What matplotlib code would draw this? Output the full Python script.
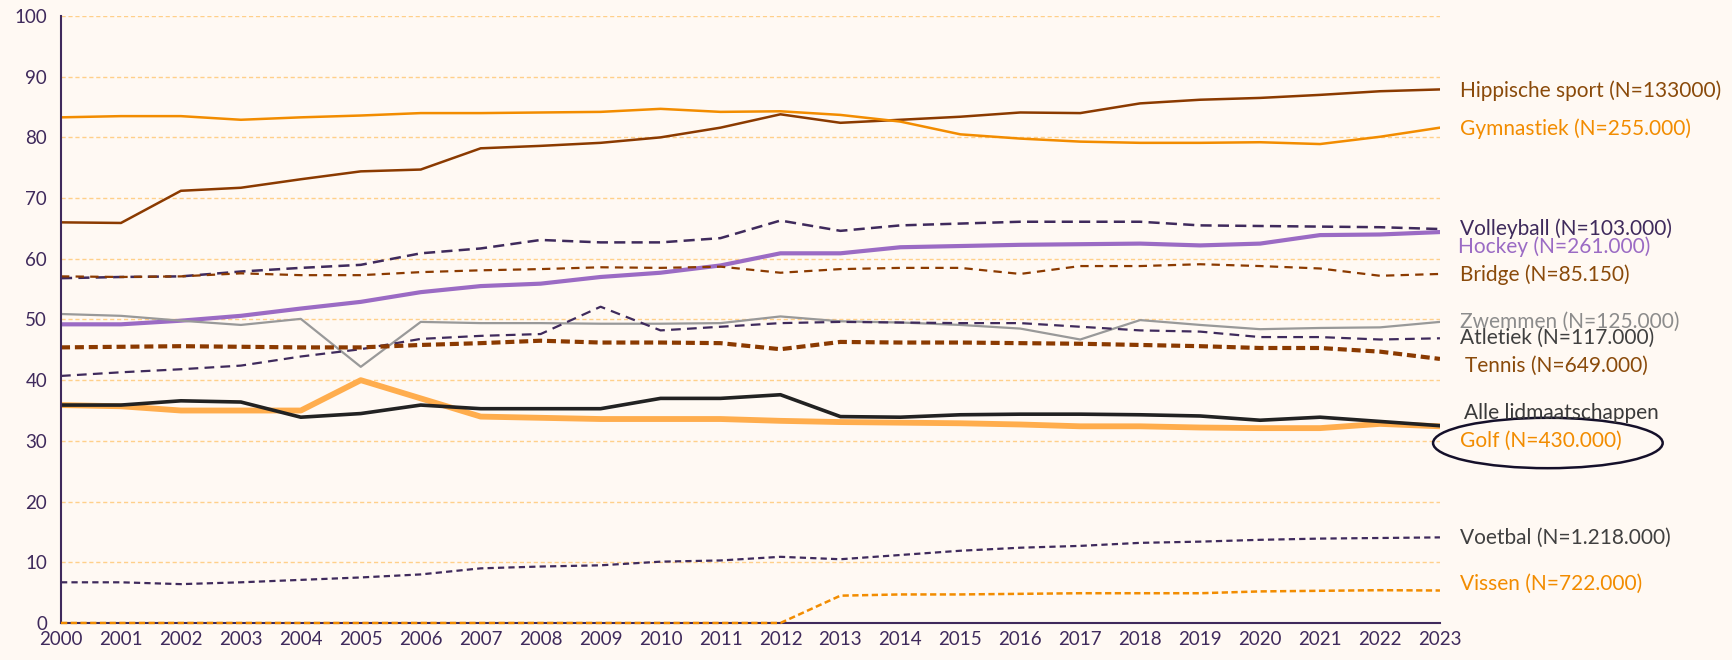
import numpy as np
import matplotlib
matplotlib.use("Agg")
from matplotlib import pyplot as plt
from matplotlib.patches import Ellipse

jaren = list(range(2000, 2024))

hippisch = [66.0, 65.9, 71.2, 71.7, 73.1, 74.4, 74.7, 78.2, 78.6, 79.1, 80.0, 81.6,
            83.8, 82.4, 82.9, 83.4, 84.1, 84.0, 85.6, 86.2, 86.5, 87.0, 87.6, 87.9]
gymnastiek = [83.3, 83.5, 83.5, 82.9, 83.3, 83.6, 84.0, 84.0, 84.1, 84.2, 84.7, 84.2,
              84.3, 83.7, 82.6, 80.5, 79.8, 79.3, 79.1, 79.1, 79.2, 78.9, 80.1, 81.6]
volleybal = [56.8, 57.0, 57.1, 57.9, 58.5, 59.0, 60.9, 61.7, 63.1, 62.7, 62.7, 63.4,
             66.3, 64.6, 65.5, 65.8, 66.1, 66.1, 66.1, 65.5, 65.4, 65.3, 65.2, 64.9]
hockey = [49.2, 49.2, 49.8, 50.6, 51.8, 52.9, 54.5, 55.5, 55.9, 57.0, 57.7, 58.9,
          60.9, 60.9, 61.9, 62.1, 62.3, 62.4, 62.5, 62.2, 62.5, 63.9, 64.0, 64.4]
bridge = [57.1, 57.0, 57.1, 57.6, 57.3, 57.3, 57.8, 58.1, 58.3, 58.6, 58.5, 58.7,
          57.7, 58.3, 58.5, 58.5, 57.5, 58.8, 58.8, 59.1, 58.8, 58.4, 57.2, 57.5]
zwemmen = [50.9, 50.6, 49.8, 49.1, 50.1, 42.2, 49.6, 49.4, 49.4, 49.3, 49.3, 49.4,
           50.5, 49.7, 49.5, 49.1, 48.5, 46.7, 49.9, 49.1, 48.4, 48.6, 48.7, 49.6]
atletiek = [40.7, 41.3, 41.8, 42.4, 43.9, 45.1, 46.8, 47.3, 47.6, 52.1, 48.2, 48.8,
            49.4, 49.6, 49.5, 49.4, 49.4, 48.8, 48.2, 48.0, 47.1, 47.1, 46.7, 46.9]
tennis = [45.4, 45.5, 45.6, 45.5, 45.4, 45.4, 45.8, 46.1, 46.5, 46.2, 46.2, 46.1,
          45.1, 46.3, 46.2, 46.2, 46.1, 46.0, 45.8, 45.6, 45.3, 45.3, 44.7, 43.5]
alle = [35.9, 35.9, 36.6, 36.4, 33.9, 34.5, 35.9, 35.3, 35.3, 35.3, 37.0, 37.0,
        37.6, 34.0, 33.9, 34.3, 34.4, 34.4, 34.3, 34.1, 33.4, 33.9, 33.2, 32.5]
golf = [35.9, 35.7, 35.0, 35.0, 35.0, 40.0, 37.0, 34.0, 33.8, 33.6, 33.6, 33.6,
        33.3, 33.1, 33.0, 32.9, 32.7, 32.4, 32.4, 32.2, 32.1, 32.1, 32.8, 32.4]
voetbal = [6.7, 6.7, 6.4, 6.7, 7.1, 7.5, 8.0, 9.0, 9.3, 9.5, 10.1, 10.3,
           10.9, 10.5, 11.2, 11.9, 12.4, 12.7, 13.2, 13.4, 13.7, 13.9, 14.0, 14.1]
vissen = [0, 0, 0, 0, 0, 0, 0, 0, 0, 0, 0, 0,
          0, 4.5, 4.7, 4.7, 4.8, 4.9, 4.9, 4.9, 5.2, 5.3, 5.4, 5.35]

labels = ["Hippische sport (N=133000)", "Gymnastiek (N=255.000)", "Volleyball (N=103.000)",
          "Hockey (N=261.000)", "Bridge (N=85.150)", "Zwemmen (N=125.000)",
          "Atletiek (N=117.000)", "Tennis (N=649.000)", "Alle lidmaatschappen",
          "Golf (N=430.000)", "Voetbal (N=1.218.000)", "Vissen (N=722.000)"]
label_y = [87.7, 81.5, 65.0, 62.0, 57.3, 49.6, 46.9, 42.3, 34.6, 30.0, 14.1, 6.4]

bruin = "#8B3A00"
oranje = "#F28C00"
paars = "#3F2A5C"
lila = "#9B6BC4"
bg = "#FFF9F3"

plt.rcParams['font.family'] = ['Lato', 'DejaVu Sans']
plt.rcParams['lines.scale_dashes'] = False

fig = plt.figure(figsize=(17.33, 6.6), dpi=100, facecolor=bg)
ax = fig.add_axes([0.0352, 0.0561, 0.7957, 0.9197])
ax.set_facecolor(bg)

# lijnen
ax.plot(jaren, hippisch, color=bruin, lw=1.8)
ax.plot(jaren, gymnastiek, color=oranje, lw=1.8)
ax.plot(jaren, volleybal, color=paars, lw=1.8, dashes=(8, 4.5))
ax.plot(jaren, hockey, color=lila, lw=3)
ax.plot(jaren, bridge, color=bruin, lw=1.6, dashes=(6, 4.5))
ax.plot(jaren, zwemmen, color="#999999", lw=1.6)
ax.plot(jaren, atletiek, color=paars, lw=1.6, dashes=(7, 4.5))
ax.plot(jaren, tennis, color=bruin, lw=3, dashes=(6.5, 3.5))
ax.plot(jaren, alle, color="#222222", lw=2.6)
ax.plot(jaren, golf, color="#FFAD4D", lw=4.2, zorder=1.9)
ax.plot(jaren, voetbal, color=paars, lw=1.6, dashes=(4.5, 3))
ax.plot(jaren, vissen, color=oranje, lw=1.8, dashes=(4.5, 2.5), clip_on=False, zorder=3)

ax.set_xlim(2000, 2023)
ax.set_ylim(0, 100)
ax.set_yticks(range(0, 101, 10))
ax.set_xticks(jaren)
ax.tick_params(length=0, labelsize=13.5, colors=paars, pad=6)
ax.tick_params(axis='y', pad=10)
ax.yaxis.grid(True, color="#FFD08A", linestyle=(0, (3, 2)), lw=1)
ax.set_axisbelow(True)
for s in ["top", "right"]:
    ax.spines[s].set_visible(False)
for s in ["left", "bottom"]:
    ax.spines[s].set_color(paars)
    ax.spines[s].set_linewidth(1.5)

kleuren = ["#8A4A0A", oranje, paars, lila, "#8A4A0A", "#8C8C8C", "#404040", "#8A4A0A",
           "#3A3A3A", oranje, "#404040", oranje]
dx = [0.33, 0.33, 0.33, 0.30, 0.33, 0.33, 0.33, 0.42, 0.40, 0.33, 0.33, 0.33]
for i in range(len(labels)):
    ax.text(2023 + dx[i], label_y[i], labels[i], color=kleuren[i], fontsize=15,
            va='center', ha='left', clip_on=False)

ax.add_patch(Ellipse((2024.8, 29.65), 3.83, 8.3, fill=False, ec="#15102A",
                     lw=1.8, clip_on=False))

plt.savefig("out.png", dpi=100, facecolor=bg)
